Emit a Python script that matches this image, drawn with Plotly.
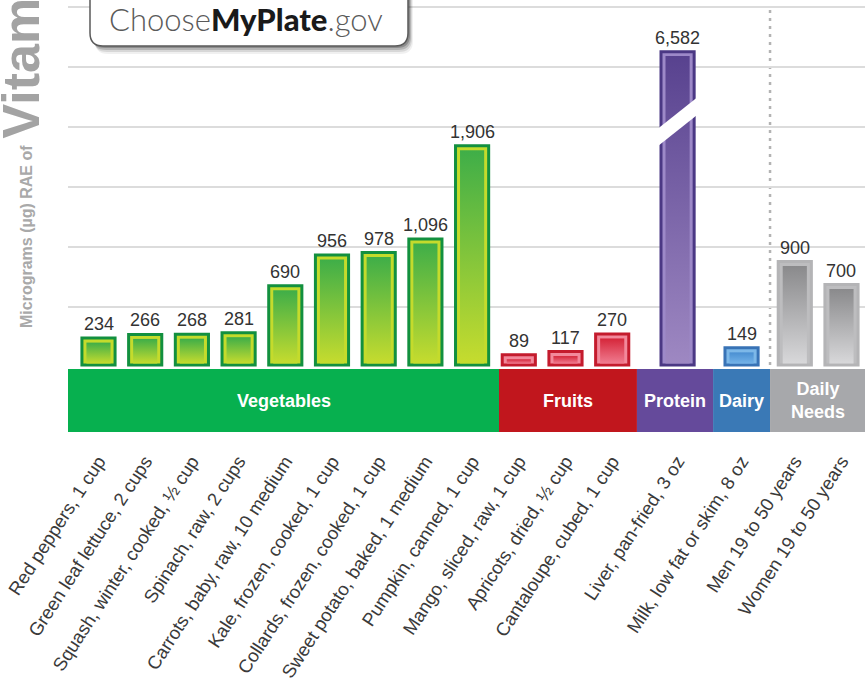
import plotly.graph_objects as go

# ---------------- data ----------------
categories = [
    "Red peppers, 1 cup", "Green leaf lettuce, 2 cups", "Squash, winter, cooked, ½ cup",
    "Spinach, raw, 2 cups", "Carrots, baby, raw, 10 medium", "Kale, frozen, cooked, 1 cup",
    "Collards, frozen, cooked, 1 cup", "Sweet potato, baked, 1 medium", "Pumpkin, canned, 1 cup",
    "Mango, sliced, raw, 1 cup", "Apricots, dried, ½ cup", "Cantaloupe, cubed, 1 cup",
    "Liver, pan-fried, 3 oz", "Milk, low fat or skim, 8 oz",
    "Men 19 to 50 years", "Women 19 to 50 years",
]
groups = ["Vegetables"] * 9 + ["Fruits"] * 3 + ["Protein"] + ["Dairy"] + ["Daily Needs"] * 2
values = [234, 266, 268, 281, 690, 956, 978, 1096, 1906, 89, 117, 270, 6582, 149, 900, 700]
group_names = ["Vegetables", "Fruits", "Protein", "Dairy", "Daily Needs"]
band_labels = ["Vegetables", "Fruits", "Protein", "Dairy", "Daily<br>Needs"]

# ---------------- styling / layout constants ----------------
W, H = 865, 684
PLOT_L, PLOT_T, PLOT_B = 68, 0, 432
BASE_PY = 365
SCALE = 0.115          # px per microgram
UNIT_PX = 46.7         # px per x unit
X0 = -0.653
X1 = X0 + (W - PLOT_L) / UNIT_PX
Y1 = (BASE_PY - PLOT_T) / SCALE
Y0 = -(PLOT_B - BASE_PY) / SCALE
BAND_TOP = -4 / SCALE
BREAK_CAP = 2725       # visual height of broken bar
BAR_W = 0.71
FONT = "Liberation Sans, Arial, Helvetica, sans-serif"

GAP_BEFORE = {"Vegetables": 0, "Fruits": 0.0, "Protein": 0.40, "Dairy": 0.37, "Daily Needs": 0.14}
PAD_AFTER = {"Vegetables": 0.576, "Fruits": 0.53, "Protein": 0.76, "Dairy": 0.61}

STYLE = {
    "Vegetables": dict(band="#07b04f", border="#12903f", frame="#c4db2c", top="#3fae48", bottom="#c6dc2e"),
    "Fruits": dict(band="#c1161d", border="#c41b2d", frame="#f2899b", top="#d5263a", bottom="#f07c90"),
    "Protein": dict(band="#654a9b", border="#4b3884", frame="#9d89c8", top="#58428f", bottom="#9e88c2"),
    "Dairy": dict(band="#3a79b6", border="#3873b6", frame="#7db8e8", top="#4a8fd2", bottom="#72b2e8"),
    "Daily Needs": dict(band="#a7a8ab", border="#b4b4b6", frame="#bdbdbf", top="#8a8a8c", bottom="#d8d8da"),
}

# ---------------- positions ----------------
xpos = []
cur = -1.0
prev = None
for g in groups:
    cur += 1 + (GAP_BEFORE[g] if (prev is not None and g != prev) else 0)
    xpos.append(cur)
    prev = g

disp = [min(v, BREAK_CAP) for v in values]

def px_x(px):
    return px / W

def px_y(py):
    return 1 - py / H

fig = go.Figure()

# bars (outer frame) per group
for g in group_names:
    idx = [i for i, gg in enumerate(groups) if gg == g]
    st = STYLE[g]
    fig.add_trace(go.Bar(
        x=[xpos[i] for i in idx], y=[disp[i] for i in idx], width=BAR_W,
        marker=dict(color=st["frame"], line=dict(color=st["border"], width=3)),
        hoverinfo="skip", showlegend=False,
    ))

# inner gradient fill for each bar
ix = 4.5 / UNIT_PX
it = 4.5 / SCALE
ib = 1.5 / SCALE
for i, (x, h) in enumerate(zip(xpos, disp)):
    st = STYLE[groups[i]]
    l, r = x - BAR_W / 2 + ix, x + BAR_W / 2 - ix
    b, t = ib, max(h - it, ib + 1)
    fig.add_trace(go.Scatter(
        x=[l, r, r, l, l], y=[b, b, t, t, b], mode="none", fill="toself",
        fillcolor=st["top"],
        fillgradient=dict(type="vertical", colorscale=[[0, st["bottom"]], [1, st["top"]]]),
        hoverinfo="skip", showlegend=False,
    ))

shapes = []

# break slash on capped bars
for i, v in enumerate(values):
    if v > BREAK_CAP:
        mid, th, rise = 0.776 * BREAK_CAP, 0.056 * BREAK_CAP, 0.094 * BREAK_CAP
        e = 2 / UNIT_PX
        l, r = xpos[i] - BAR_W / 2 - e, xpos[i] + BAR_W / 2 + e
        path = (f"M {l},{mid - rise/2 - th/2} L {r},{mid + rise/2 - th/2} "
                f"L {r},{mid + rise/2 + th/2} L {l},{mid - rise/2 + th/2} Z")
        shapes.append(dict(type="path", path=path, xref="x", yref="y",
                           fillcolor="white", line=dict(width=0), layer="above"))

# category bands
annotations = []
edges = []
start = X0
for gi, g in enumerate(group_names):
    idx = [i for i, gg in enumerate(groups) if gg == g]
    end = xpos[idx[-1]] + PAD_AFTER[g] if g in PAD_AFTER else X1
    shapes.append(dict(type="rect", xref="x", yref="y", x0=start, x1=end, y0=Y0, y1=BAND_TOP,
                       fillcolor=STYLE[g]["band"], line=dict(width=0), layer="above"))
    annotations.append(dict(x=(start + end) / 2, y=(Y0 + BAND_TOP) / 2, xref="x", yref="y",
                            xanchor="center", yanchor="middle",
                            text=f"<b>{band_labels[gi]}</b>", showarrow=False,
                            font=dict(family=FONT, size=18, color="white")))
    edges.append(end)
    start = end

# dotted separator before daily needs
grid_vals = [(BASE_PY - 307 + 60 * k) / SCALE for k in range(6)]
shapes.append(dict(type="line", xref="x", yref="y", x0=edges[3], x1=edges[3], y0=0, y1=grid_vals[-1],
                   line=dict(color="#b3b3b3", width=2.5, dash="3px,5px"), layer="below"))

# value labels
for x, h, v in zip(xpos, disp, values):
    annotations.append(dict(x=x, y=h, xref="x", yref="y", text=f"{v:,}", showarrow=False,
                            xanchor="center", yanchor="bottom", yshift=2,
                            font=dict(family=FONT, size=18, color="#333333")))

# ChooseMyPlate.gov logo box
def rrect(L, T, R, B, rad):
    return (f"M {px_x(L)},{px_y(T)} L {px_x(L)},{px_y(B - rad)} "
            f"Q {px_x(L)},{px_y(B)} {px_x(L + rad)},{px_y(B)} "
            f"L {px_x(R - rad)},{px_y(B)} Q {px_x(R)},{px_y(B)} {px_x(R)},{px_y(B - rad)} "
            f"L {px_x(R)},{px_y(T)} Z")

for dx, dy, a in [(5, 8, 0.06), (4, 6, 0.10), (3, 4, 0.16), (2, 2, 0.22)]:
    shapes.append(dict(type="path", path=rrect(90 + dx, -20, 408 + dx, 46 + dy, 13), xref="paper", yref="paper",
                       fillcolor=f"rgba(0,0,0,{a})", line=dict(width=0), layer="above"))
shapes.append(dict(type="path", path=rrect(90, -20, 408, 46, 13), xref="paper", yref="paper",
                   fillcolor="white", line=dict(color="#5a5a5a", width=1.5), layer="above"))
annotations.append(dict(x=px_x(246), y=px_y(19), xref="paper", yref="paper", showarrow=False,
                        xanchor="center", yanchor="middle",
                        text=("<span style='color:#5a5a5a;font-weight:300'>Choose</span>"
                              "<span style='font-weight:900'>MyPlate</span>"
                              "<span style='color:#5a5a5a;font-weight:300'>.gov</span>"),
                        font=dict(family="Lato, Liberation Sans, sans-serif", size=31, color="#1a1a1a")))

# y-axis titles
annotations.append(dict(x=px_x(26), y=px_y(237), xref="paper", yref="paper", showarrow=False,
                        xanchor="center", yanchor="middle",
                        textangle=-90, text="<b>Micrograms (µg) RAE of</b>",
                        font=dict(family=FONT, size=16, color="#a9a9a9")))
annotations.append(dict(x=px_x(21), y=px_y(141), xref="paper", yref="paper", showarrow=False,
                        textangle=-90, yanchor="bottom", xanchor="center", text="<b>Vitamin A</b>",
                        font=dict(family=FONT, size=52, color="#a3a3a3")))

fig.update_layout(
    width=W, height=H, margin=dict(l=0, r=0, t=0, b=0), autosize=False,
    template="none", paper_bgcolor="white", plot_bgcolor="white",
    barmode="overlay", showlegend=False,
    shapes=shapes, annotations=annotations,
    xaxis=dict(domain=[PLOT_L / W, 1], range=[X0, X1], tickvals=xpos, ticktext=categories,
               tickangle=-57, tickfont=dict(family=FONT, size=18.5, color="#3a3a3a"),
               ticklabelstandoff=14,
               showgrid=False, zeroline=False, showline=False, ticks="", automargin=False),
    yaxis=dict(domain=[1 - PLOT_B / H, 1 - PLOT_T / H], range=[Y0, Y1], tickvals=grid_vals,
               showticklabels=False, showgrid=True, gridcolor="#dcdcdc", gridwidth=1.5,
               zeroline=False, showline=False, ticks="", automargin=False),
)

fig.write_html("out.html")
